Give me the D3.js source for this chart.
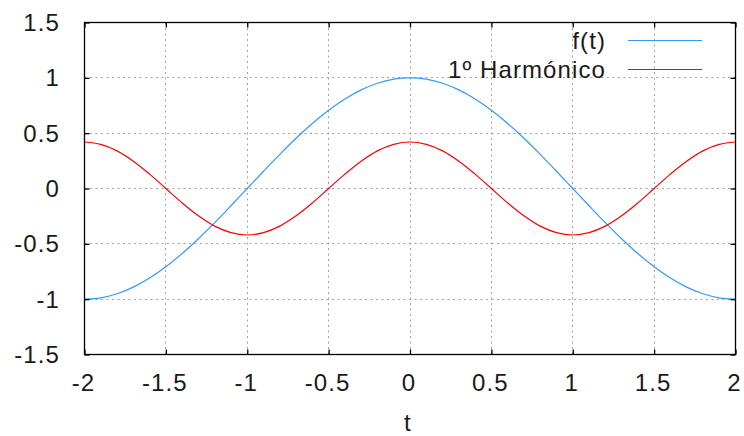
<!DOCTYPE html>
<html>
<head>
<meta charset="utf-8">
<script src="https://cdn.jsdelivr.net/npm/d3@7"></script>
<style>
  body { margin: 0; background: #fff; }
  text { font-family: "Liberation Sans", Arial, sans-serif; letter-spacing: 1.1px; }
</style>
</head>
<body>
<svg width="744" height="436"></svg>
<script>
// sample points
var tValues = [-2, -1.9, -1.8, -1.7, -1.6, -1.5, -1.4, -1.3, -1.2, -1.1, -1,
  -0.9, -0.8, -0.7, -0.6, -0.5, -0.4, -0.3, -0.2, -0.1, 0,
  0.1, 0.2, 0.3, 0.4, 0.5, 0.6, 0.7, 0.8, 0.9, 1,
  1.1, 1.2, 1.3, 1.4, 1.5, 1.6, 1.7, 1.8, 1.9, 2];

var fValues = [-1, -0.988, -0.951, -0.891, -0.809, -0.707, -0.588, -0.454, -0.309, -0.156, 0,
  0.156, 0.309, 0.454, 0.588, 0.707, 0.809, 0.891, 0.951, 0.988, 1,
  0.988, 0.951, 0.891, 0.809, 0.707, 0.588, 0.454, 0.309, 0.156, 0,
  -0.156, -0.309, -0.454, -0.588, -0.707, -0.809, -0.891, -0.951, -0.988, -1];

var harmValues = [0.42, 0.399, 0.34, 0.247, 0.13, 0, -0.13, -0.247, -0.34, -0.399, -0.42,
  -0.399, -0.34, -0.247, -0.13, 0, 0.13, 0.247, 0.34, 0.399, 0.42,
  0.399, 0.34, 0.247, 0.13, 0, -0.13, -0.247, -0.34, -0.399, -0.42,
  -0.399, -0.34, -0.247, -0.13, 0, 0.13, 0.247, 0.34, 0.399, 0.42];

var xTicks = [-2, -1.5, -1, -0.5, 0, 0.5, 1, 1.5, 2];
var yTicks = [-1.5, -1, -0.5, 0, 0.5, 1, 1.5];

var seriesNames = ["f(t)", "1º Harmónico"];
var seriesColors = ["#3399ff", "#ff0000"];
var xTitle = "t";

var svg = d3.select("svg"),
    pLeft = 84.5, pRight = 735.5, pTop = 22.5, pBottom = 354.5;

var x = d3.scaleLinear().domain([-2, 2]).range([pLeft, pRight]);
var y = d3.scaleLinear().domain([-1.5, 1.5]).range([pBottom, pTop]);

var fmt = function (d) { return String(d); };
var snap = function (v) { return Math.round(v - 0.5) + 0.5; };

// grid
var grid = svg.append("g").attr("stroke", "#a0a0a0").attr("stroke-width", 1)
    .attr("stroke-dasharray", "2,3.5");
grid.selectAll("line.gx").data(xTicks.slice(1, -1)).enter().append("line")
    .attr("x1", function (d) { return snap(x(d)); })
    .attr("x2", function (d) { return snap(x(d)); })
    .attr("y1", pTop).attr("y2", pBottom);
grid.selectAll("line.gy").data(yTicks.slice(1, -1)).enter().append("line")
    .attr("y1", function (d) { return snap(y(d)); })
    .attr("y2", function (d) { return snap(y(d)); })
    .attr("x1", pLeft).attr("x2", pRight);

// curves
var line = d3.line()
    .x(function (d) { return x(d[0]); })
    .y(function (d) { return y(d[1]); })
    .curve(d3.curveCatmullRom);

[fValues, harmValues].forEach(function (vals, i) {
  svg.append("path")
      .datum(d3.zip(tValues, vals))
      .attr("fill", "none")
      .attr("stroke", seriesColors[i])
      .attr("stroke-width", 1.2)
      .attr("d", line);
});

// axes with inward ticks, mirrored on top/right
function styleAxis(g) {
  g.select(".domain").remove();
  g.selectAll(".tick line").attr("stroke", "#000").attr("stroke-width", 1.3);
  g.selectAll(".tick text").remove();
}
svg.append("g").attr("transform", "translate(0," + pBottom + ")")
    .call(d3.axisBottom(x).tickValues(xTicks).tickSize(-5)).call(styleAxis);
svg.append("g").attr("transform", "translate(0," + pTop + ")")
    .call(d3.axisTop(x).tickValues(xTicks).tickSize(-5)).call(styleAxis);
svg.append("g").attr("transform", "translate(" + pLeft + ",0)")
    .call(d3.axisLeft(y).tickValues(yTicks).tickSize(-5)).call(styleAxis);
svg.append("g").attr("transform", "translate(" + pRight + ",0)")
    .call(d3.axisRight(y).tickValues(yTicks).tickSize(-5)).call(styleAxis);

svg.append("rect")
    .attr("x", pLeft).attr("y", pTop)
    .attr("width", pRight - pLeft).attr("height", pBottom - pTop)
    .attr("fill", "none").attr("stroke", "#000").attr("stroke-width", 1.3);

// tick labels
svg.selectAll("text.xl").data(xTicks).enter().append("text")
    .attr("x", function (d) { return x(d) - 1; })
    .attr("y", 391)
    .attr("text-anchor", "middle")
    .attr("font-size", 24)
    .attr("fill", "#1a1a1a")
    .text(fmt);

svg.selectAll("text.yl").data(yTicks).enter().append("text")
    .attr("x", 60)
    .attr("y", function (d) { return y(d) + 8.5; })
    .attr("text-anchor", "end")
    .attr("font-size", 24)
    .attr("fill", "#1a1a1a")
    .text(fmt);

svg.append("text")
    .attr("x", (pLeft + pRight) / 2 - 2)
    .attr("y", 431)
    .attr("text-anchor", "middle")
    .attr("font-size", 24)
    .attr("fill", "#1a1a1a")
    .text(xTitle);

// legend
var legend = svg.append("g");
seriesNames.forEach(function (name, i) {
  var ly = 40.5 + i * 29;
  legend.append("text")
      .attr("x", 606).attr("y", ly + 8.5)
      .attr("text-anchor", "end")
      .attr("font-size", 24)
      .attr("fill", "#1a1a1a")
      .text(name);
  legend.append("line")
      .attr("x1", 628).attr("x2", 702)
      .attr("y1", ly).attr("y2", ly)
      .attr("stroke", seriesColors[i]).attr("stroke-width", 1.2);
});
</script>
</body>
</html>
